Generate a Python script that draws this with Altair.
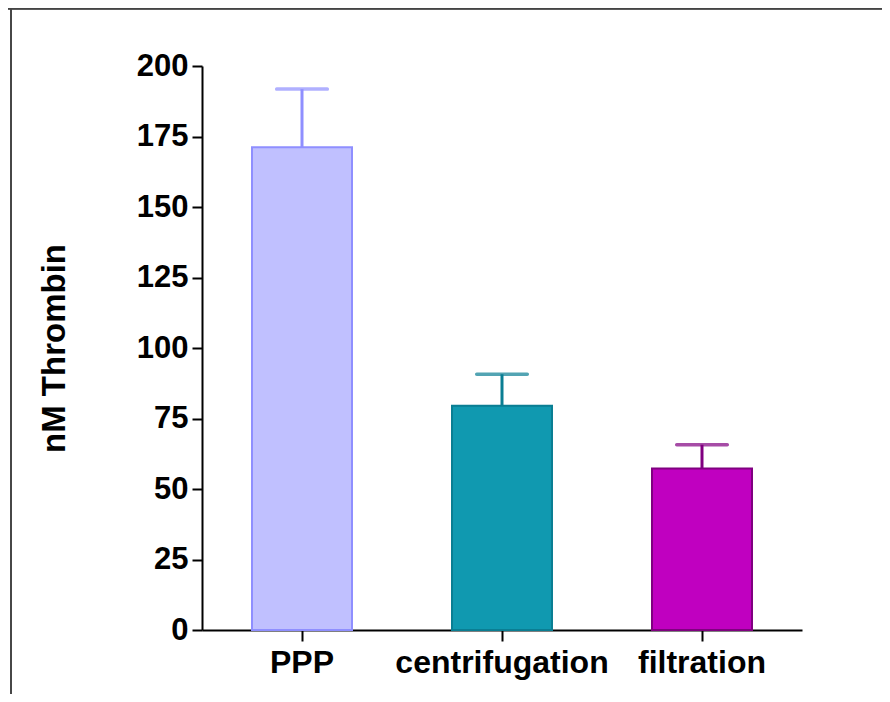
import altair as alt
import pandas as pd

categories = ["PPP", "centrifugation", "filtration"]
means = [171.2, 79.5, 57.3]
upper = [191.8, 90.7, 65.7]
fills = ["#C0C0FF", "#1099B0", "#C000C0"]
strokes = ["#8F8FFF", "#0A7E93", "#800080"]
y_ticks = [0, 25, 50, 75, 100, 125, 150, 175, 200]

df = pd.DataFrame({"group": categories, "mean": means, "upper": upper, "capcolor": strokes})

FONT = "Liberation Sans"

x_enc = alt.X(
    "group:N", sort=categories,
    scale=alt.Scale(paddingInner=0.5, paddingOuter=0.25),
    axis=alt.Axis(title=None, labelAngle=0, labelFont=FONT, labelFontWeight="bold",
                  labelFontSize=32, labelColor="black", labelLimit=0, domainColor="black",
                  domainWidth=2, tickColor="black", tickWidth=2, tickSize=11, labelPadding=6),
)
y_enc = alt.Y(
    "mean:Q",
    scale=alt.Scale(domain=[0, 200], nice=False, zero=True),
    axis=alt.Axis(title="nM Thrombin", values=y_ticks, grid=False, labelFont=FONT,
                  labelFontWeight="bold", labelFontSize=31, labelColor="black",
                  domainColor="black", domainWidth=2, tickColor="black", tickWidth=2,
                  tickSize=10, labelPadding=4, titleFont=FONT, titleFontWeight="bold",
                  titleFontSize=33, titleColor="black", titleX=-148, titleY=282,
                  titleBaseline="middle", titleAlign="center", titleAngle=270),
)
fill_enc = alt.Fill("group:N", scale=alt.Scale(domain=categories, range=fills), legend=None)
stroke_enc = alt.Stroke("group:N", scale=alt.Scale(domain=categories, range=strokes), legend=None)

bars = alt.Chart(df).mark_bar(strokeWidth=2).encode(
    x=x_enc, y=y_enc, fill=fill_enc, stroke=stroke_enc
)
stem = alt.Chart(df).mark_rule(strokeWidth=3).encode(
    x=alt.X("group:N", sort=categories, bandPosition=0.5),
    y="mean:Q", y2="upper:Q", stroke=stroke_enc,
)
cap = alt.Chart(df).mark_tick(orient="horizontal", size=54, thickness=3.5, cornerRadius=1.7).encode(
    x=alt.X("group:N", sort=categories),
    y="upper:Q",
    fill=alt.Fill("capcolor:N", scale=None),
)
frame_left = alt.Chart(df).mark_rule(color="#444444", strokeWidth=1.5).encode(
    x=alt.value(-191), y=alt.value(-58), y2=alt.value(640)
)
frame_top = alt.Chart(df).mark_rule(color="#444444", strokeWidth=1.5).encode(
    x=alt.value(-194), x2=alt.value(700), y=alt.value(-57.3)
)

chart = alt.layer(bars, stem, cap, frame_left, frame_top).properties(
    width=600, height=564,
    autosize=alt.AutoSizeParams(type="none"),
    padding={"left": 194, "top": 58, "right": 80, "bottom": 64},
    background="white",
).configure_view(strokeWidth=0, stroke=None)

chart.save("out.html", embed_options={"renderer": "svg", "actions": False})
